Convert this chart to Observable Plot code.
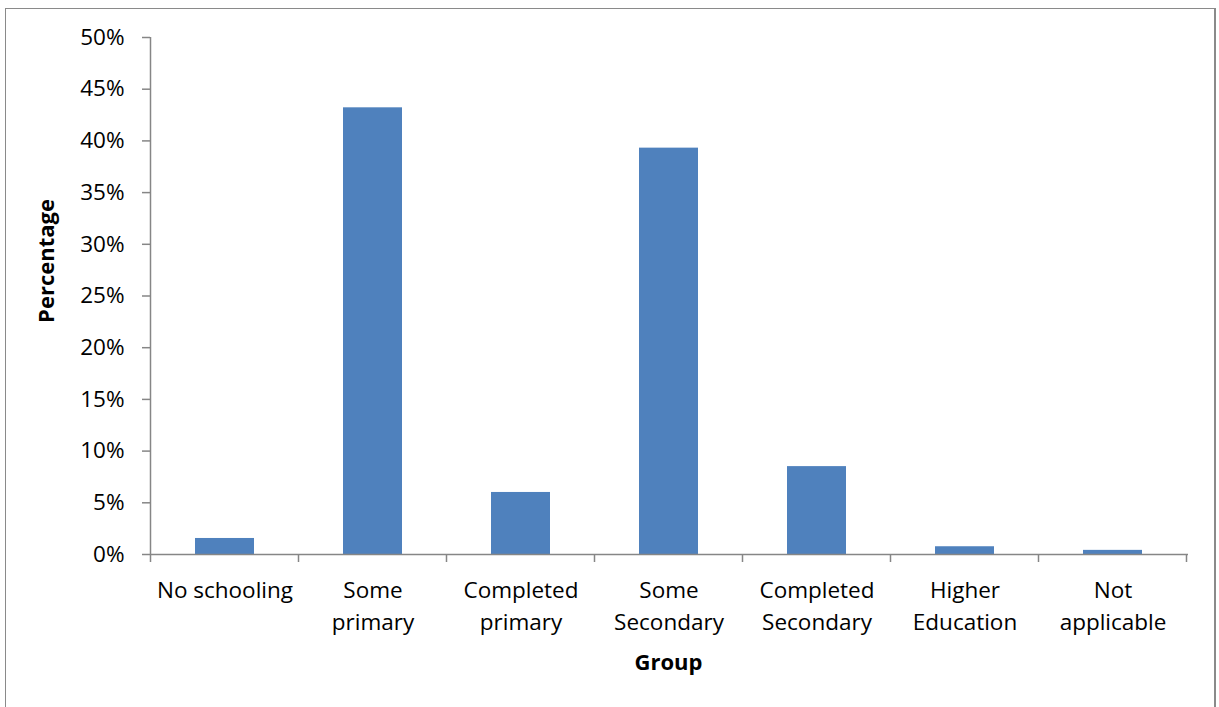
<!DOCTYPE html>
<html>
<head>
<meta charset="utf-8">
<script src="https://cdn.jsdelivr.net/npm/d3@7"></script>
<script src="https://cdn.jsdelivr.net/npm/@observablehq/plot@0.6"></script>
<style>
  html, body { margin: 0; padding: 0; background: #fff; overflow: hidden; }
  #wrap { position: relative; width: 1219px; height: 707px; }
  #frame { position: absolute; left: 5px; top: 8px; width: 1211px; height: 720px; border: 1.5px solid #8a8a8a; border-right-width: 2px; box-sizing: border-box; pointer-events: none; }
  #chart { position: absolute; left: 0; top: 0; }
</style>
</head>
<body>
<div id="wrap"><div id="chart"></div><div id="frame"></div></div>
<script>
const categories = ["No schooling", "Some\nprimary", "Completed\nprimary", "Some\nSecondary", "Completed\nSecondary", "Higher\nEducation", "Not\napplicable"];
const values = [0.0155, 0.432, 0.060, 0.393, 0.085, 0.0075, 0.004];
const yTicks = [0, 0.05, 0.10, 0.15, 0.20, 0.25, 0.30, 0.35, 0.40, 0.45, 0.50];

const data = categories.map((c, i) => ({group: c, value: values[i]}));
const font = "'Open Sans', sans-serif";
const axisColor = "#868686";

const plot = Plot.plot({
  width: 1219,
  height: 707,
  marginLeft: 150,
  marginRight: 31,
  marginTop: 37,
  marginBottom: 153,
  style: {fontFamily: font, fontSize: "22.5px", color: "#000", background: "transparent"},
  x: {domain: categories, paddingInner: 0.6, paddingOuter: 0.3, label: null},
  y: {domain: [0, 0.5], label: null},
  marks: [
    Plot.barY(data, {x: "group", y: "value", fill: "#4F81BD"}),
    Plot.ruleY([0], {stroke: axisColor, strokeWidth: 1.5}),
    Plot.axisY({ticks: yTicks, tickFormat: d3.format(".0%"), tickSize: 8, tickPadding: 18, stroke: axisColor, strokeWidth: 1.5, fill: "#000", label: null}),
    Plot.axisX({tickSize: 0, tickPadding: 20, fill: "#000", label: null, lineHeight: 1.45, textAnchor: "middle"})
  ]
});

const svg = d3.select(plot);
const xs = plot.scale("x");
const ys = plot.scale("y");
const y0 = ys.apply(0), yTop = ys.apply(0.5);
const step = xs.step;
const bounds = categories.map(c => xs.apply(c) - (step - xs.bandwidth) / 2);
bounds.push(bounds[bounds.length - 1] + step);
const g = svg.append("g").attr("stroke", axisColor).attr("stroke-width", 1.5);
// y axis line
g.append("line").attr("x1", bounds[0]).attr("x2", bounds[0]).attr("y1", yTop).attr("y2", y0);
// x boundary ticks
bounds.forEach(b => g.append("line").attr("x1", b).attr("x2", b).attr("y1", y0).attr("y2", y0 + 8));

// axis titles
svg.append("text").attr("x", (bounds[0] + bounds[bounds.length - 1]) / 2).attr("y", 670)
  .attr("text-anchor", "middle").attr("font-weight", "bold").attr("font-size", 22).attr("font-family", font).text("Group");
svg.append("text").attr("transform", `translate(54, 261) rotate(-90)`)
  .attr("text-anchor", "middle").attr("font-weight", "bold").attr("font-size", 22).attr("font-family", font).text("Percentage");

document.getElementById("chart").appendChild(plot);
</script>
</body>
</html>
